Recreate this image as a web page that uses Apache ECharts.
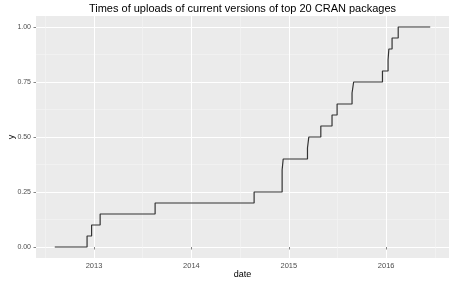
<!DOCTYPE html>
<html>
<head>
<meta charset="utf-8">
<script src="https://cdn.jsdelivr.net/npm/echarts@6/dist/echarts.min.js"></script>
<style>
  html, body { margin: 0; padding: 0; background: #fff; }
  #chart { width: 456px; height: 285px; }
</style>
</head>
<body>
<div id="chart"></div>
<script>
// upload dates (sorted) and cumulative share of packages
const uploadDates = ['2012-08-07', '2012-12-06', '2012-12-23', '2013-01-24', '2013-08-18',
  '2014-08-24', '2014-12-07', '2014-12-11', '2015-03-12', '2015-03-17', '2015-05-01',
  '2015-06-12', '2015-07-01', '2015-08-26', '2015-09-01', '2015-12-18', '2016-01-08',
  '2016-01-11', '2016-01-23', '2016-02-15', '2016-06-14'];
const cumShare = [0, 0.05, 0.10, 0.15, 0.20, 0.25, 0.35, 0.40, 0.45, 0.50, 0.55,
  0.60, 0.65, 0.70, 0.75, 0.80, 0.85, 0.90, 0.95, 1.00, 1.00];

const yearTicks = ['2013-01-01', '2014-01-01', '2015-01-01', '2016-01-01'];
const yearMinorTicks = ['2012-07-02', '2013-07-02', '2014-07-02', '2015-07-02', '2016-07-02'];
const yTicks = [0, 0.25, 0.5, 0.75, 1];
const yMinorTicks = [0.125, 0.375, 0.625, 0.875];

const toTime = d => +new Date(d + 'T00:00:00Z');
const first = toTime(uploadDates[0]);
const last = toTime(uploadDates[uploadDates.length - 1]);
const pad = (last - first) * 0.05;

const font = '"Liberation Sans", Arial, sans-serif';
const panelLeft = 36, panelRight = 7, panelTop = 16, panelBottom = 27;

const chart = echarts.init(document.getElementById('chart'));
const hidden = { show: false };

chart.setOption({
  animation: false,
  backgroundColor: '#ffffff',
  graphic: [{
    type: 'text',
    x: panelLeft + (456 - panelLeft - panelRight) / 2,
    y: 8.5,
    style: {
      text: 'Times of uploads of current versions of top 20 CRAN packages',
      font: '11px ' + font,
      fill: '#000',
      align: 'center',
      verticalAlign: 'middle'
    }
  }],
  grid: {
    left: panelLeft, right: panelRight, top: panelTop, bottom: panelBottom,
    outerBoundsMode: 'none', containLabel: false,
    show: true, backgroundColor: '#EBEBEB', borderWidth: 0
  },
  xAxis: [{
    type: 'value', position: 'bottom',
    min: first - pad, max: last + pad,
    axisLine: hidden, axisLabel: hidden,
    axisTick: { show: false, customValues: yearMinorTicks.map(toTime) },
    splitLine: { show: true, lineStyle: { color: '#F5F5F5', width: 0.6 } }
  }, {
    type: 'value', position: 'bottom',
    min: first - pad, max: last + pad,
    axisLine: hidden,
    axisTick: { show: true, length: 2.5, lineStyle: { color: '#333', width: 0.6 },
      customValues: yearTicks.map(toTime) },
    axisLabel: {
      customValues: yearTicks.map(toTime),
      formatter: v => String(new Date(v).getUTCFullYear()),
      color: '#4D4D4D', fontSize: 7.5, fontFamily: font, margin: 4
    },
    splitLine: { show: true, lineStyle: { color: '#FFFFFF', width: 1 } },
    name: 'date', nameLocation: 'middle', nameGap: 12, nameMoveOverlap: false,
    nameTextStyle: { color: '#000', fontSize: 9, fontFamily: font }
  }],
  yAxis: [{
    type: 'value', position: 'left',
    min: -0.05, max: 1.05,
    axisLine: hidden, axisLabel: hidden,
    axisTick: { show: false, customValues: yMinorTicks },
    splitLine: { show: true, lineStyle: { color: '#F5F5F5', width: 0.6 } }
  }, {
    type: 'value', position: 'left',
    min: -0.05, max: 1.05,
    axisLine: hidden,
    axisTick: { show: true, length: 2.5, lineStyle: { color: '#333', width: 0.6 },
      customValues: yTicks },
    axisLabel: {
      customValues: yTicks,
      formatter: v => v.toFixed(2),
      color: '#4D4D4D', fontSize: 7, fontFamily: font, margin: 5
    },
    splitLine: { show: true, lineStyle: { color: '#FFFFFF', width: 1 } },
    name: 'y', nameLocation: 'middle', nameGap: 20, nameMoveOverlap: false,
    nameTextStyle: { color: '#000', fontSize: 9, fontFamily: font }
  }],
  series: [{
    type: 'line',
    xAxisIndex: 1,
    yAxisIndex: 1,
    step: 'end',
    showSymbol: false,
    data: uploadDates.map((d, i) => [toTime(d), cumShare[i]]),
    lineStyle: { color: '#333333', width: 1.2 }
  }]
});
</script>
</body>
</html>
